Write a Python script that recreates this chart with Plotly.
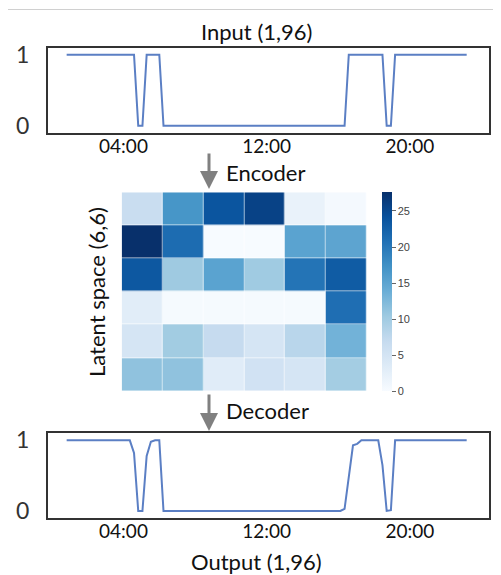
import plotly.graph_objects as go

# ---------------- data ----------------
input_series = [1]*17 + [0, 0] + [1]*4 + [0]*44 + [1]*9 + [0, 0] + [1]*18
output_series = ([1]*16 + [0.82, 0, 0, 0.78, 0.98, 1, 1] + [0]*43 +
                 [0.03, 0.52, 0.93, 0.95, 1, 1, 1, 1, 1, 0.65, 0, 0.01] + [1]*18)
time_index = list(range(96))
tick_positions = [13.5, 47.5, 81.5]
tick_labels = ["04:00", "12:00", "20:00"]

latent = [
    [6.5, 16.8, 23.7, 25.7, 2.0, 0.4],
    [27.6, 21.2, 0.0, 0.0, 15.2, 15.0],
    [23.4, 10.3, 15.2, 10.2, 20.4, 23.0],
    [3.0, 0.3, 0.3, 0.3, 0.3, 21.0],
    [4.7, 10.0, 6.9, 4.7, 8.0, 13.3],
    [11.3, 11.3, 3.2, 5.3, 4.7, 9.8],
]
colorbar_ticks = [0, 5, 10, 15, 20, 25]

blues = ['#f7fbff', '#deebf7', '#c6dbef', '#9ecae1', '#6baed6',
         '#4292c6', '#2171b5', '#08519c', '#08306b']
colorscale = [[i/(len(blues)-1), c] for i, c in enumerate(blues)]

W, H = 501, 575
OFF = 8  # page body margin
FONT = "Lato"

def px_x(p):
    return (p - OFF) / W

def px_y(p):
    return 1 - (p - OFF) / H

fig = go.Figure()

line_style = dict(color="#5b7fc4", width=2)
fig.add_trace(go.Scatter(x=time_index, y=input_series, mode="lines",
                         line=line_style, xaxis="x", yaxis="y", showlegend=False))
fig.add_trace(go.Scatter(x=time_index, y=output_series, mode="lines",
                         line=line_style, xaxis="x3", yaxis="y3", showlegend=False))
fig.add_trace(go.Heatmap(z=latent, x=list(range(6)), y=list(range(6)),
                         colorscale=colorscale, zmin=0, zmax=27.6,
                         xgap=0.6, ygap=0.6,
                         xaxis="x2", yaxis="y2",
                         colorbar=dict(
                             thickness=10, len=199, lenmode="pixels",
                             x=px_x(382), xanchor="left", xpad=0, ypad=0,
                             y=px_y(291.7), yanchor="middle",
                             outlinewidth=0,
                             tickvals=colorbar_ticks,
                             ticks="outside", ticklen=4, tickcolor="#666",
                             tickfont=dict(family="Liberation Sans", size=11, color="#444"),
                         )))

xdom = [px_x(47.7), px_x(489)]
line_axis_x = dict(domain=xdom, range=[-4.5, 100.3], tickmode="array",
                   tickvals=tick_positions, ticktext=tick_labels,
                   showgrid=False, zeroline=False, showline=True, mirror=True,
                   linecolor="#333", linewidth=1.5, automargin=False,
                   ticks="", ticklabelstandoff=-5,
                   tickfont=dict(family=FONT, size=19, color="#111"))
line_axis_y = dict(range=[-0.105, 1.1], tickmode="array", tickvals=[0, 1],
                   ticktext=["0", "1"], automargin=False,
                   showgrid=False, zeroline=False, showline=True, mirror=True,
                   linecolor="#333", linewidth=1.5,
                   ticks="outside", ticklen=12, tickcolor="rgba(0,0,0,0)",
                   tickfont=dict(family=FONT, size=23, color="#333"))

fig.update_layout(
    width=W, height=H, margin=dict(l=0, r=0, t=0, b=0, autoexpand=False),
    paper_bgcolor="white", plot_bgcolor="white",
    xaxis=dict(**line_axis_x, anchor="y"),
    yaxis=dict(**line_axis_y, domain=[px_y(133.3), px_y(47.7)], anchor="x"),
    xaxis3=dict(**line_axis_x, anchor="y3"),
    yaxis3=dict(**line_axis_y, domain=[px_y(518.3), px_y(433.3)], anchor="x3"),
    xaxis2=dict(domain=[px_x(121.7), px_x(366.7)], showticklabels=False,
                showgrid=False, zeroline=False, ticks="", anchor="y2",
                range=[-0.5, 5.5], automargin=False),
    yaxis2=dict(domain=[px_y(391), px_y(192.3)], showticklabels=False,
                showgrid=False, zeroline=False, ticks="", anchor="x2",
                range=[5.5, -0.5], automargin=False),
)

ann_font = dict(family=FONT, size=22, color="#111")
fig.add_annotation(text="Input (1,96)", x=px_x(256), y=px_y(31), xref="paper", yref="paper",
                   showarrow=False, font=ann_font, xanchor="center", yanchor="middle")
fig.add_annotation(text="Output (1,96)", x=px_x(256), y=px_y(561), xref="paper", yref="paper",
                   showarrow=False, font=ann_font, xanchor="center", yanchor="middle")
fig.add_annotation(text="Encoder", x=px_x(224), y=px_y(172), xref="paper", yref="paper",
                   showarrow=False, font=ann_font, xanchor="left", yanchor="middle")
fig.add_annotation(text="Decoder", x=px_x(224), y=px_y(410), xref="paper", yref="paper",
                   showarrow=False, font=ann_font, xanchor="left", yanchor="middle")
fig.add_annotation(text="Latent space (6,6)", x=px_x(97), y=px_y(292), xref="paper", yref="paper",
                   showarrow=False, font=dict(family=FONT, size=22, color="#111"),
                   textangle=-90, xanchor="center", yanchor="middle")

for y0, y1 in [(152, 189), (393, 431)]:
    fig.add_annotation(text="", x=px_x(209), y=px_y(y1), xref="paper", yref="paper",
                       ax=0, ay=-(y1 - y0), showarrow=True, arrowhead=2,
                       arrowsize=1.2, arrowwidth=3, arrowcolor="#808080")

fig.add_shape(type="line", xref="paper", yref="paper",
              x0=0, x1=1, y0=px_y(9.5), y1=px_y(9.5),
              line=dict(color="#d0d0d0", width=1))

fig.write_html("out.html")
